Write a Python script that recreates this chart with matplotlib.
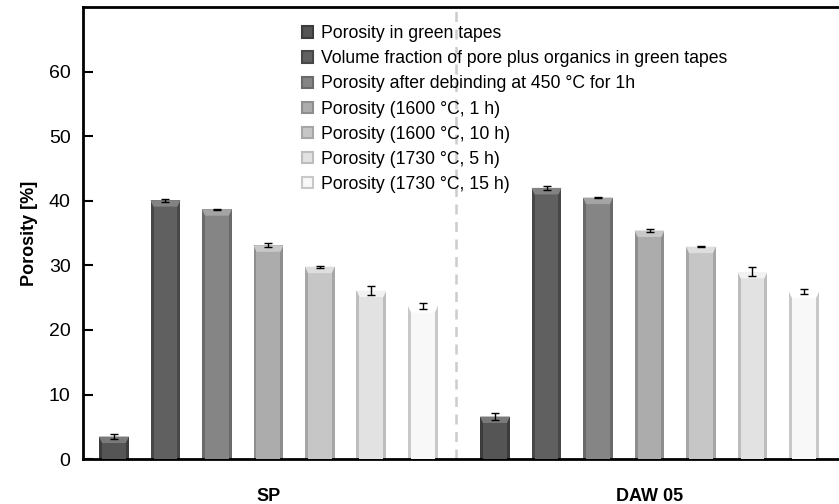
import numpy as np
import matplotlib.pyplot as plt
from matplotlib.patches import Polygon, Rectangle

plt.rcParams['font.family'] = ['Liberation Sans', 'DejaVu Sans']

groups = ["SP", "DAW 05"]
series = [
    "Porosity in green tapes",
    "Volume fraction of pore plus organics in green tapes",
    "Porosity after debinding at 450 °C for 1h",
    "Porosity (1600 °C, 1 h)",
    "Porosity (1600 °C, 10 h)",
    "Porosity (1730 °C, 5 h)",
    "Porosity (1730 °C, 15 h)",
]
sp_values = [3.5, 40.1, 38.7, 33.1, 29.8, 26.1, 23.7]
sp_errors = [0.45, 0.25, 0.1, 0.3, 0.15, 0.7, 0.4]
daw_values = [6.6, 42.0, 40.5, 35.4, 32.9, 29.0, 25.9]
daw_errors = [0.5, 0.25, 0.1, 0.25, 0.1, 0.7, 0.4]

colors = ["#555555", "#606060", "#858585", "#acacac", "#c6c6c6", "#e2e2e2", "#f8f8f8"]
edges = ["#3c3c3c", "#474747", "#6a6a6a", "#8e8e8e", "#a6a6a6", "#bdbdbd", "#c8c8c8"]
tops = ["#7a7a7a", "#838383", "#a4a4a4", "#c8c8c8", "#dedede", "#f2f2f2", "#ffffff"]

group_offset = [0.0, 7.4]
width = 0.58

fig = plt.figure(figsize=(8.39, 5.04), dpi=100)
ax = fig.add_axes([0.099, 0.089, 0.901, 0.897])


def draw_bevel_bar(x, h, i):
    # outer shadow rim, flat face and a lighter bevel on top
    ax.bar(x, h, width, color=edges[i], zorder=2)
    ax.bar(x, h, width * 0.8, color=colors[i], zorder=3)
    bev = min(1.0, h * 0.3)
    half = width / 2
    ax.add_patch(Polygon([(x - half, h), (x + half, h),
                          (x + half * 0.8, h - bev), (x - half * 0.8, h - bev)],
                         closed=True, facecolor=tops[i], edgecolor="none", zorder=4))


for g, (vals, errs) in enumerate([(sp_values, sp_errors), (daw_values, daw_errors)]):
    xs = group_offset[g] + np.arange(len(vals))
    for i, (x, v) in enumerate(zip(xs, vals)):
        draw_bevel_bar(x, v, i)
    ax.errorbar(xs, vals, yerr=errs, fmt="none", ecolor="black",
                elinewidth=1, capsize=3, capthick=1, zorder=5)

# separator between the two tape groups
ax.axvline(6.65, color="#cccccc", linestyle=(0, (4, 3)), linewidth=1.8, zorder=1)

ax.set_xlim(-0.6, 14.08)
ax.set_ylim(0, 70)
ax.set_yticks([0, 10, 20, 30, 40, 50, 60])
ax.tick_params(axis="y", direction="in", length=7, width=1.5, labelsize=14, pad=9)
ax.set_xticks([3, group_offset[1] + 3])
ax.set_xticklabels(groups, fontsize=13, fontweight="bold")
ax.tick_params(axis="x", length=0, pad=21)
ax.set_ylabel("Porosity [%]", fontsize=13, fontweight="bold", labelpad=8)

for s in ["left", "bottom", "top"]:
    ax.spines[s].set_linewidth(2)
ax.spines["right"].set_visible(False)

handles = [Rectangle((0, 0), 1, 1, facecolor=colors[i], edgecolor=edges[i], linewidth=1.5)
           for i in range(len(series))]
fig.legend(handles, series, loc="upper left", bbox_to_anchor=(0.352, 0.964),
           frameon=False, fontsize=12.7, handlelength=0.6, handleheight=0.6,
           handletextpad=0.45, labelspacing=0.46, borderaxespad=0)

fig.savefig("out.png", dpi=100)
